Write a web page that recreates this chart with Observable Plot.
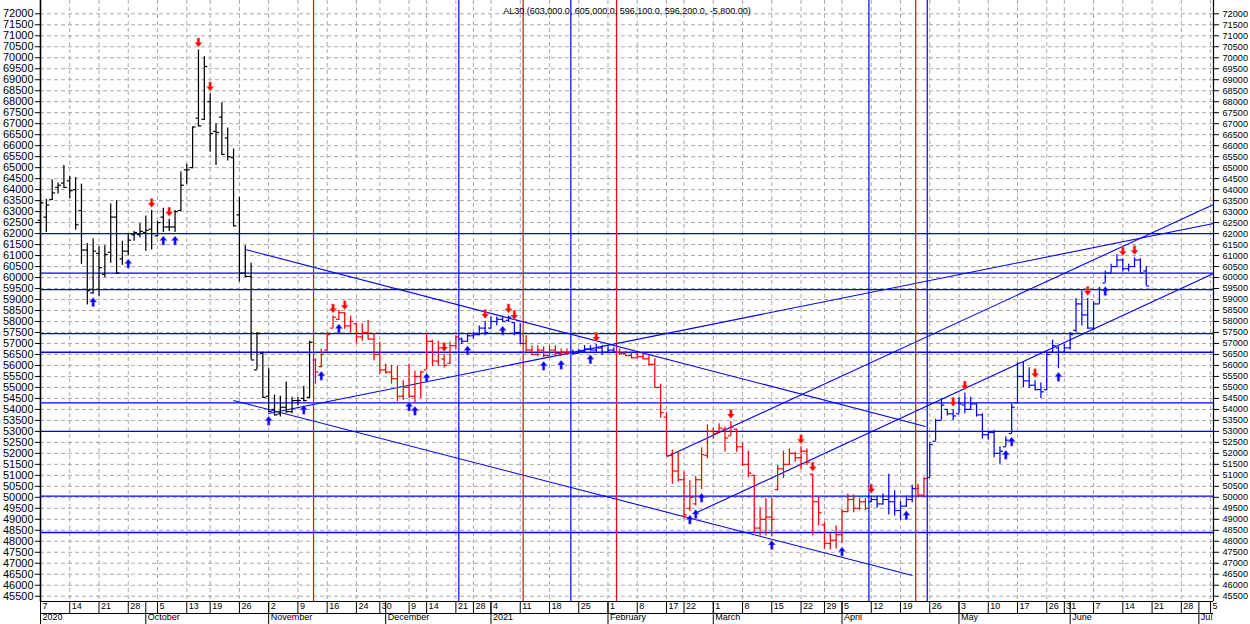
<!DOCTYPE html>
<html><head><meta charset="utf-8">
<script src="https://cdn.jsdelivr.net/npm/d3@7"></script>
<script src="https://cdn.jsdelivr.net/npm/@observablehq/plot@0.6"></script>
<style>html,body{margin:0;padding:0;background:#fff;overflow:hidden}svg{display:block}</style>
</head><body><div id="chart"></div>
<script>
const title = "AL30 (603,000.0, 605,000.0, 596,100.0, 596,200.0, -5,800.00)";

// daily bars, one per trading day from 7 Sep 2020 (index 0) to 18 Jun 2021
const opens = [62600,62750,63550,64100,64300,64400,64000,63050,61250,59300,61100,60150,61150,62750,60850,61200,61950,61950,62050,62200,
61900,62750,62300,62300,63050,64900,65000,67250,67200,68000,66650,67300,66350,65450,62850,60200,60050,55800,56550,54600,
54000,53800,54100,53900,54400,54500,54550,56250,55950,56700,57700,58100,58400,57800,57900,57300,57500,57200,56500,55800,
55700,55400,54600,55000,54600,55500,55800,57100,56200,56300,56100,56900,57200,57100,57350,57400,57700,57700,58000,58100,
58050,57950,57500,57000,56700,56500,56700,56450,56700,56550,56600,56600,56550,56650,56750,56700,56800,56600,56700,56600,
56550,56450,56350,56400,56300,56050,55000,53650,51900,51200,50800,49500,49700,50800,51900,53000,52950,53100,52800,53100,
52300,51500,51000,48600,49000,49100,50350,51300,51500,52000,51800,52100,51050,49800,48750,47900,48050,48300,49350,49900,
49500,49800,49800,49900,49700,49900,49800,49400,49600,49900,50400,50100,50900,52550,53500,54000,53800,53800,54200,54000,
54250,53750,52850,52950,52000,52300,52900,54300,55500,55300,55100,54900,54900,56600,56800,56600,56800,57600,58800,58300,
57700,58800,59750,60200,60500,60800,60400,60500,60800,60300];
const highs = [63500,63550,64450,64300,65100,64600,64550,64250,61550,61750,61400,61450,63350,63500,61650,62000,62100,62450,62800,63050,
62550,63150,62650,63050,64800,65150,66850,70350,70050,68350,67000,67950,66800,65850,63650,61450,60650,57500,56600,55850,
54650,54600,55250,54550,54550,55050,57100,56300,56750,57500,58250,58500,58400,58250,57900,57900,58050,57450,57050,56050,
56000,55950,55300,56050,55750,55750,57450,57150,57100,56500,57050,57350,57250,57450,57500,57800,58000,58200,58200,58250,
58250,57950,57900,57350,56900,56900,56850,56900,56900,56750,56750,56700,56750,56900,56900,56950,56900,56850,56800,56750,
56650,56600,56550,56550,56450,56300,55150,53850,52150,52050,51150,50750,50950,52250,53300,53150,53350,53200,53450,53100,
52450,52100,51000,49550,49950,49950,51450,52100,52200,52050,52300,52200,51050,50000,48850,48350,48700,49450,50150,50100,
49950,49950,50050,50050,50150,51050,50300,49800,50050,50550,50600,50900,52500,53550,54500,54000,54000,54550,54750,54550,
54250,53800,53000,53050,52300,52750,54250,56150,56150,55900,55300,55200,56600,57150,56850,56950,57500,59050,59400,59050,
58900,59550,60300,60600,61050,60850,60600,60900,60850,60500];
const lows = [62100,62050,63500,63800,64050,63600,62150,60600,58750,59250,59150,60000,60650,60150,60550,61000,61650,61800,61200,61250,
61850,62050,62100,62050,63000,64250,64950,66850,67150,65700,65100,65550,65300,62300,59800,60000,56250,55800,54500,53850,
53700,53650,53800,53800,54150,54350,54500,55150,55900,56650,57700,58050,57650,57500,57000,57100,57150,56200,55600,55600,
55150,54350,54400,54500,54300,54500,55800,55950,55950,55900,56050,56700,56950,57050,57200,57350,57350,57650,57800,57950,
57950,57350,56950,56600,56450,56400,56350,56400,56450,56400,56450,56450,56550,56550,56650,56600,56450,56550,56550,56450,
56400,56300,56300,56250,55950,54950,53600,51850,50600,50700,49000,49350,49600,50350,51750,52650,52950,52050,52800,52050,
51400,50900,48350,48250,48250,48200,50300,50850,51450,51600,51250,51450,48250,48700,47650,47600,47650,47900,49300,49300,
49400,49400,49750,49500,49650,49200,49150,48950,49550,49750,50000,50000,50900,52550,53500,53700,53500,53800,53800,53950,
53650,52650,52600,51800,51500,52300,52900,54250,55000,54950,54850,54500,54850,56550,55850,56550,56700,57500,57800,57650,
57600,58800,59750,60200,60450,60250,60250,60450,60200,59610];
const closes = [63400,63300,63850,64200,64100,63950,62400,61250,59400,61200,60450,61050,62750,60200,61200,61700,62050,62100,62150,62000,
62500,62300,62300,63000,64200,64900,66850,66900,69600,66550,66600,65600,65500,62350,60200,60050,56250,57450,54550,53900,
53750,54100,53900,54400,54400,54400,57050,55700,56500,57400,58200,58400,57800,58000,57300,57500,57200,56500,55800,55700,
55400,54600,55000,54600,55500,55700,57100,56200,56800,56000,56900,57300,57100,57350,57400,57700,57500,58000,58100,58000,
58200,57500,57000,56700,56500,56700,56450,56700,56550,56600,56600,56550,56650,56750,56700,56800,56600,56700,56600,56550,
56450,56350,56400,56300,56050,55000,53850,51900,51200,50800,49200,50000,50800,51950,53000,52900,53150,52700,53200,52300,
51500,51100,48600,49000,49100,49000,51300,51500,52000,51800,52100,51600,49800,49300,47900,48050,48300,49350,49900,49500,
49800,49500,49900,49700,49900,49800,49400,49600,49900,50400,50100,50850,52400,53500,54200,53800,53700,54250,54000,54250,
53750,52850,52950,52000,52100,52600,54100,55500,55300,55100,54900,54800,56500,56900,56600,56800,57400,58800,58300,57700,
58800,59450,60200,60500,60800,60400,60500,60800,60200,59620];

// signal arrows (bar indices)
const downArrows = [19,22,27,29,50,52,69,76,80,81,95,118,130,132,142,156,158,170,179,185,187];
const upArrows = [9,15,21,23,39,45,48,51,63,64,66,73,79,86,89,94,111,112,113,125,137,148,165,166,174,182];

// horizontal support / resistance levels
const hLevels = [62000,60200,59450,57450,56600,54300,53000,50050,48400];

// vertical marker lines (bar-index position) and their colours
const vLineIdx = [46.67,71.5,82.5,90.65,98.46,141.6,149.6,151.57];
const vLineColor = ["#ff0000","#0000ff","#ff0000","#0000ff","#ff0000","#0000ff","#ff0000","#0000ff"];

// trend lines: start (index, value) -> end (index, value)
const trendX1 = [35.04,32.99,38.97,107.13,111.6];
const trendY1 = [61275,54405,53813,51857,49240];
const trendX2 = [151.28,149.06,200.5,200.5,200.5];
const trendY2 = [53222,46442,62459,63320,60184];

// axis ticks
const weekIdx = [0,5,10,15,20,25,29,34,39,44,49,54,58,63,66,71,74,77,82,87,92,97,102,107,110,115,120,125,130,134,137,142,147,152,157,162,167,172,175,180,185,190,195,200];
const weekLabels = ["7","14","21","28","5","13","19","26","2","9","16","24","30","9","14","21","28","4","11","18","25","1","8","17","22","1","8","15","22","29","5","12","19","26","3","10","17","26","31","7","14","21","28","5"];
const monthIdx = [0,18,39,59,77,97,115,137,157,176,198];
const monthLabels = ["2020","October","November","December","2021","February","March","April","May","June","Jul"];
const yTicks = d3.range(45500, 72001, 500);

const X_MAX = 200.5, Y_MIN = 45260, Y_MAX = 72605;
const n = opens.length;
const idx = d3.range(n);
function barColor(i) {
  let c = "#000000";
  vLineIdx.forEach((v, k) => { if (i > v) c = vLineColor[k]; });
  return c;
}
const arrowDown = {draw(ctx, size) {
  const s = Math.sqrt(size / Math.PI) / 4;
  ctx.moveTo(-1.3*s, -4.5*s); ctx.lineTo(1.3*s, -4.5*s); ctx.lineTo(1.3*s, 0);
  ctx.lineTo(3.6*s, 0); ctx.lineTo(0, 4.5*s); ctx.lineTo(-3.6*s, 0); ctx.lineTo(-1.3*s, 0); ctx.closePath();
}};
const arrowUp = {draw(ctx, size) {
  const s = Math.sqrt(size / Math.PI) / 4;
  ctx.moveTo(-1.3*s, 4.5*s); ctx.lineTo(1.3*s, 4.5*s); ctx.lineTo(1.3*s, 0);
  ctx.lineTo(3.6*s, 0); ctx.lineTo(0, -4.5*s); ctx.lineTo(-3.6*s, 0); ctx.lineTo(-1.3*s, 0); ctx.closePath();
}};
const ti = d3.range(trendX1.length);
const vi = d3.range(vLineIdx.length);

const chart = Plot.plot({
  width: 1250, height: 624,
  marginLeft: 40, marginRight: 37, marginTop: 0, marginBottom: 23,
  style: {fontFamily: "'Liberation Sans', Arial, sans-serif", fontSize: "11px", background: "#fff", color: "#000"},
  x: {domain: [0, X_MAX]},
  y: {domain: [Y_MIN, Y_MAX]},
  color: {type: "identity"},
  marks: [
    Plot.gridY(yTicks, {stroke: "#a8a8a8", strokeOpacity: 1, strokeDasharray: "4,3"}),
    Plot.gridX(weekIdx, {stroke: "#a8a8a8", strokeOpacity: 1, strokeDasharray: "4,3"}),
    Plot.ruleY(hLevels, {stroke: "#0000ff", strokeWidth: 1.3}),
    Plot.ruleX(vi, {x: k => vLineIdx[k], stroke: k => vLineColor[k], strokeWidth: 1.2}),
    Plot.link(ti, {x1: k => trendX1[k], y1: k => trendY1[k], x2: k => trendX2[k], y2: k => trendY2[k], stroke: "#0000ff", strokeWidth: 1.1}),
    Plot.ruleX(idx, {x: i => i, y1: i => lows[i], y2: i => highs[i], stroke: barColor, strokeWidth: 1.25}),
    Plot.link(idx, {x1: i => i - 0.5, x2: i => i, y1: i => opens[i], y2: i => opens[i], stroke: barColor, strokeWidth: 1.2}),
    Plot.link(idx, {x1: i => i, x2: i => i + 0.5, y1: i => closes[i], y2: i => closes[i], stroke: barColor, strokeWidth: 1.2}),
    Plot.dot(downArrows, {x: i => i, y: i => highs[i], dy: -7.5, r: 4, symbol: arrowDown, fill: "#ff0000", stroke: "#ff8080", strokeWidth: 0.5}),
    Plot.dot(upArrows, {x: i => i, y: i => lows[i], dy: 8, r: 4, symbol: arrowUp, fill: "#0000ff", stroke: "#a080ff", strokeWidth: 0.5}),
    Plot.ruleX([0], {stroke: "#000", strokeWidth: 1.6}),
    Plot.ruleX([X_MAX], {stroke: "#000", strokeWidth: 1.2}),
    Plot.ruleY([Y_MIN], {stroke: "#000", strokeWidth: 1.2}),
    Plot.ruleY([Y_MIN], {stroke: "#000", strokeWidth: 1.2, dy: 12}),
    Plot.axisY(yTicks, {anchor: "left", tickSize: 5, tickPadding: 2, tickFormat: d => String(d), fontSize: 11, label: null}),
    Plot.axisY(yTicks, {anchor: "right", tickSize: 5, tickPadding: 4, tickFormat: d => String(d), fontSize: 9.2, label: null}),
    Plot.axisX(weekIdx, {tickSize: 12, tickFormat: () => "", label: null}),
    Plot.axisX(monthIdx, {tickSize: 23, tickFormat: () => "", label: null}),
    Plot.text(d3.range(weekIdx.length), {x: k => weekIdx[k], text: k => weekLabels[k], frameAnchor: "bottom", dy: 7, dx: 2, textAnchor: "start", fontSize: 9}),
    Plot.text(d3.range(monthIdx.length), {x: k => monthIdx[k], text: k => monthLabels[k], frameAnchor: "bottom", dy: 18.5, dx: 2, textAnchor: "start", fontSize: 9}),
    Plot.text([title], {text: d => d, frameAnchor: "top", dy: 7, fontSize: 9})
  ]
});
document.getElementById("chart").appendChild(chart);
</script>
</body></html>
